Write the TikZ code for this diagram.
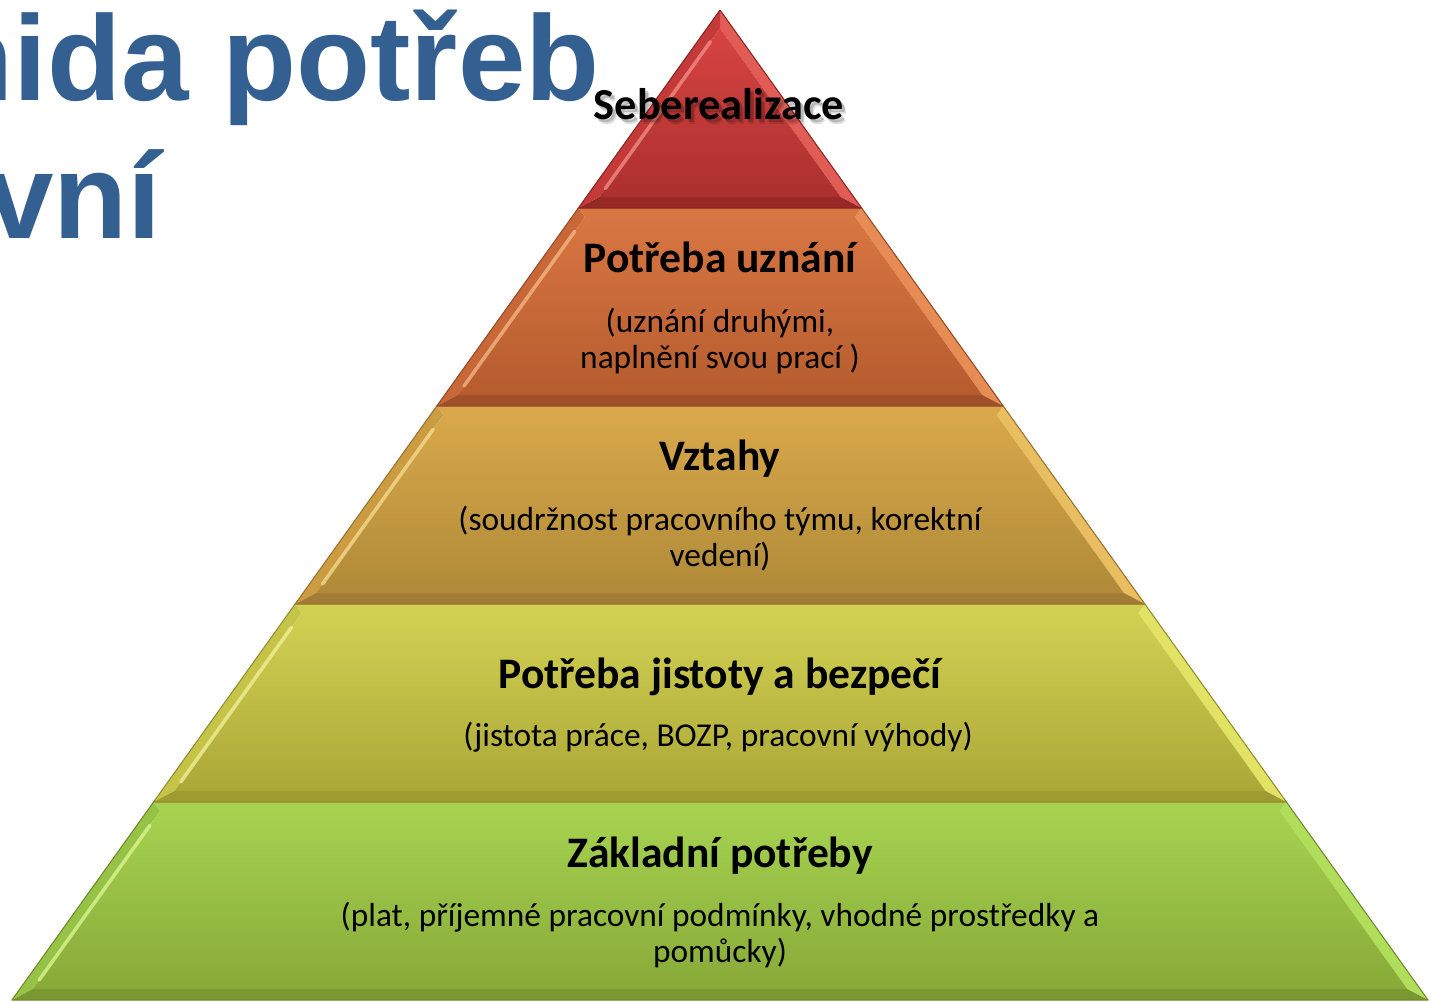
\documentclass[tikz,border=0pt]{standalone}
\usepackage{fontspec}
\setmainfont{Carlito}
\newfontfamily\headfont{Liberation Sans}
\definecolor{headblue}{RGB}{52,96,145}
% red
\definecolor{redtop}{RGB}{214,68,66}
\definecolor{redbot}{RGB}{172,48,46}
\definecolor{redband}{RGB}{150,40,38}
\definecolor{redside}{RGB}{196,58,56}
\definecolor{redright}{RGB}{226,92,86}
\definecolor{redlight}{RGB}{245,150,140}
\definecolor{redline}{RGB}{140,36,34}
% orange
\definecolor{ortop}{RGB}{216,118,66}
\definecolor{orbot}{RGB}{182,92,46}
\definecolor{orband}{RGB}{160,80,40}
\definecolor{orside}{RGB}{200,104,56}
\definecolor{orright}{RGB}{230,140,84}
\definecolor{orlight}{RGB}{248,190,140}
\definecolor{orline}{RGB}{150,74,36}
% gold
\definecolor{gotop}{RGB}{216,168,74}
\definecolor{gobot}{RGB}{176,138,56}
\definecolor{goband}{RGB}{162,124,52}
\definecolor{goside}{RGB}{204,156,66}
\definecolor{goright}{RGB}{232,190,96}
\definecolor{golight}{RGB}{250,225,150}
\definecolor{goline}{RGB}{150,114,46}
% yellow-green
\definecolor{yetop}{RGB}{210,208,82}
\definecolor{yebot}{RGB}{172,168,56}
\definecolor{yeband}{RGB}{160,154,50}
\definecolor{yeside}{RGB}{198,196,72}
\definecolor{yeright}{RGB}{226,226,100}
\definecolor{yelight}{RGB}{245,245,160}
\definecolor{yeline}{RGB}{146,140,44}
% green
\definecolor{grtop}{RGB}{166,210,80}
\definecolor{grbot}{RGB}{136,170,56}
\definecolor{grband}{RGB}{122,152,50}
\definecolor{grside}{RGB}{150,194,70}
\definecolor{grright}{RGB}{176,222,90}
\definecolor{grlight}{RGB}{225,250,150}
\definecolor{grline}{RGB}{110,138,44}

\newcommand\pyrlevel[3]{%
 \pgfmathsetmacro\pyT{#1}%
 \pgfmathsetmacro\pyB{#2}%
 \pgfmathsetmacro\pxLT{720-0.7152*(\pyT-10)}%
 \pgfmathsetmacro\pxRT{720+0.7152*(\pyT-10)}%
 \pgfmathsetmacro\pxLB{720-0.7152*(\pyB-10)}%
 \pgfmathsetmacro\pxRB{720+0.7152*(\pyB-10)}%
 \pgfmathsetmacro\piT{max(\pyT+9,10+13/0.7152)}%
 \pgfmathsetmacro\piB{\pyB-11}%
 \pgfmathsetmacro\qxLT{720-0.7152*(\piT-10)+13}%
 \pgfmathsetmacro\qxRT{720+0.7152*(\piT-10)-13}%
 \pgfmathsetmacro\qxLB{720-0.7152*(\piB-10)+13}%
 \pgfmathsetmacro\qxRB{720+0.7152*(\piB-10)-13}%
 \fill[#3side] (\pxLT,\pyT) -- (\pxLB,\pyB) -- (\qxLB,\piB) -- (\qxLT,\piT) -- cycle;
 \fill[#3right] (\pxRT,\pyT) -- (\pxRB,\pyB) -- (\qxRB,\piB) -- (\qxRT,\piT) -- cycle;
 \fill[#3top] (\pxLT,\pyT) -- (\pxRT,\pyT) -- (\qxRT,\piT) -- (\qxLT,\piT) -- cycle;
 \fill[#3band] (\pxLB,\pyB) -- (\pxRB,\pyB) -- (\qxRB,\piB) -- (\qxLB,\piB) -- cycle;
 \shade[top color=#3top, bottom color=#3bot] (\qxLT,\piT) -- (\qxRT,\piT) -- (\qxRB,\piB) -- (\qxLB,\piB) -- cycle;
 \draw[#3light, line width=2pt, line cap=round, opacity=0.7]
   ($(\qxLT,\piT)!0.08!(\qxLB,\piB)$) -- ($(\qxLT,\piT)!0.95!(\qxLB,\piB)$);
 \draw[#3line, line width=0.6pt, line join=round] (\pxLT,\pyT) -- (\pxLB,\pyB) -- (\pxRB,\pyB) -- (\pxRT,\pyT);
}

\begin{document}
\begin{tikzpicture}[x=0.02cm, y=-0.02cm,
  lvltitle/.style={font=\bfseries\fontsize{24.8}{29}\selectfont, anchor=base, inner sep=0pt},
  lvlsub/.style={font=\fontsize{19}{23}\selectfont, anchor=base, inner sep=0pt},
  headline/.style={font=\headfont\bfseries\fontsize{69}{80}\selectfont, text=headblue, anchor=base east, inner sep=0pt}]
\useasboundingbox[fill=white] (0,0) rectangle (1437,1001);
\usetikzlibrary{calc}

% heading (cut off at the left)
\node[headline] (head1) at (600,100) {nida potřeb};
\node[headline] (head2) at (162,238) {vní};

% pyramid levels
\pyrlevel{802}{1000}{gr}
\pyrlevel{604}{802}{ye}
\pyrlevel{406}{604}{go}
\pyrlevel{208}{406}{or}
\pyrlevel{10}{208}{red}

% texts
\node[lvltitle, font=\bfseries\fontsize{25.2}{29}\selectfont, text=black, opacity=0.18] (sebshadow) at (722,122) {Seberealizace};
\node[lvltitle, font=\bfseries\fontsize{25.2}{29}\selectfont, text=black, opacity=0.12] (sebshadow2) at (723,124) {Seberealizace};
\node[lvltitle, font=\bfseries\fontsize{25.2}{29}\selectfont] (seb) at (719,119) {Seberealizace};

\node[lvltitle] (uz) at (720,272) {Potřeba uznání};
\node[lvlsub] (uza) at (720,332) {(uznání druhými,};
\node[lvlsub] (uzb) at (720,368) {naplnění svou prací )};

\node[lvltitle] (vz) at (720,470) {Vztahy};
\node[lvlsub] (vza) at (720,530) {(soudržnost pracovního týmu, korektní};
\node[lvlsub] (vzb) at (720,566) {vedení)};

\node[lvltitle] (ji) at (720,688) {Potřeba jistoty a bezpečí};
\node[lvlsub] (jia) at (718,746) {(jistota práce, BOZP, pracovní výhody)};

\node[lvltitle] (za) at (720,867) {Základní potřeby};
\node[lvlsub] (zaa) at (720,926) {(plat, příjemné pracovní podmínky, vhodné prostředky a};
\node[lvlsub] (zab) at (720,962) {pomůcky)};
\end{tikzpicture}
\end{document}
